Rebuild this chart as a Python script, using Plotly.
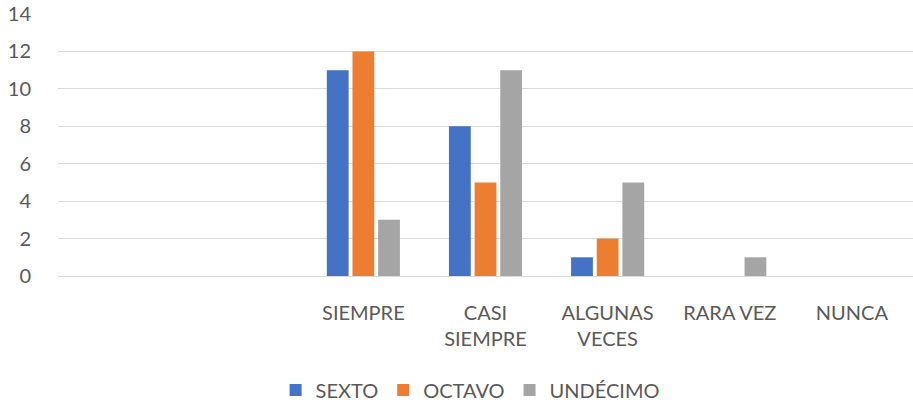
import plotly.graph_objects as go

categories = ["SIEMPRE", "CASI<br>SIEMPRE", "ALGUNAS<br>VECES", "RARA VEZ", "NUNCA"]
sexto = [11, 8, 1, 0, 0]
octavo = [12, 5, 2, 0, 0]
undecimo = [3, 11, 5, 1, 0]
series = [("SEXTO", sexto, "#4472C4"), ("OCTAVO", octavo, "#ED7D31"), ("UNDÉCIMO", undecimo, "#A5A5A5")]
y_ticks = [0, 2, 4, 6, 8, 10, 12, 14]

fig = go.Figure()
for name, vals, color in series:
    fig.add_trace(go.Bar(x=categories, y=vals, name=name, marker_color=color, marker_line_width=0))

font = dict(family="Lato, Open Sans, sans-serif", size=20, color="#595959")
fig.update_layout(
    width=913, height=406,
    margin=dict(l=58, r=0, t=14, b=130, autoexpand=False),
    plot_bgcolor="white", paper_bgcolor="white",
    barmode="group", bargap=0.37, bargroupgap=0.15,
    font=font,
    legend=dict(orientation="h", x=0.482, xanchor="center", y=-0.435, yanchor="middle",
                font=font, itemwidth=30, traceorder="normal"),
    xaxis=dict(range=[-2.5, 4.5], showgrid=False, showline=True, linecolor="#d9d9d9", linewidth=1,
               ticks="outside", ticklen=19, tickcolor="rgba(0,0,0,0)", tickfont=font),
    yaxis=dict(range=[0, 14], tickvals=y_ticks, showgrid=True, gridcolor="#d9d9d9", gridwidth=1,
               zeroline=False, showline=False,
               ticks="outside", ticklen=22, tickcolor="rgba(0,0,0,0)", tickfont=font),
)
fig.write_html("out.html")
